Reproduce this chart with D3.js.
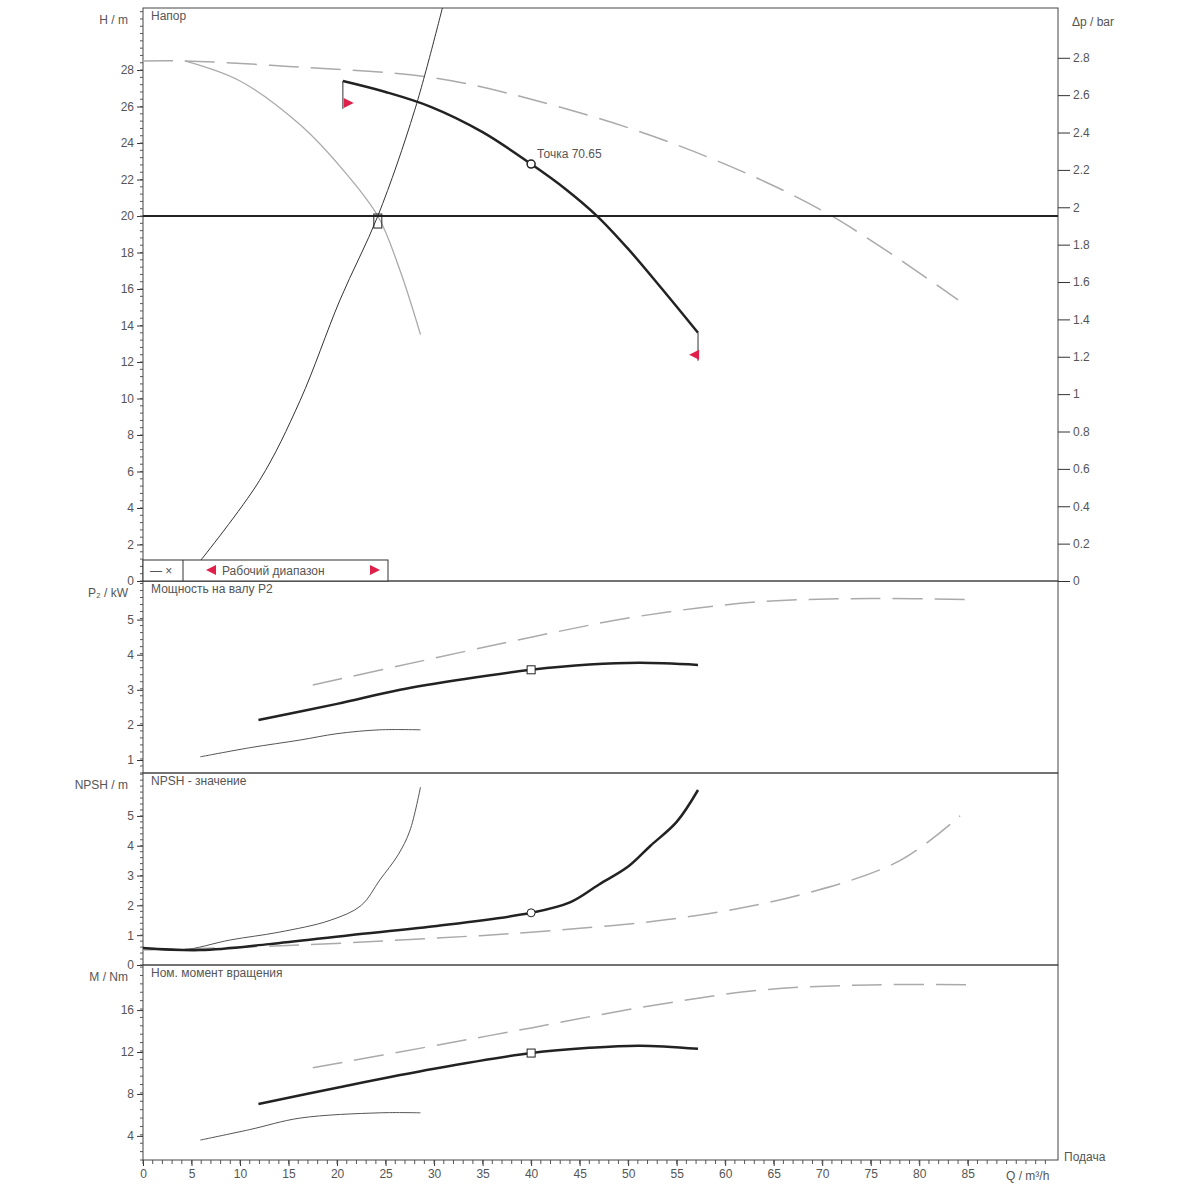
<!doctype html>
<meta charset="utf-8">
<title>Pump curves</title>
<script src="https://d3js.org/d3.v7.min.js"></script>
<style>
body { margin: 0; background: #fff; }
text { font-family: "Liberation Sans", Arial, sans-serif; font-size: 12px; fill: #555; }
.ax path, .ax line { stroke: #333; }
</style>
<svg width="1200" height="1200"></svg>
<script>
// Q in m3/h
var headMain = [[20.6,27.4],[25,26.8],[29.6,26.0],[35,24.6],[40,22.85],[43.5,21.5],[46.8,20],[50,18.2],[53.5,16.0],[57.2,13.6]];
var headMax = [[0,28.5],[4.3,28.5],[15,28.2],[29.6,27.6],[40,26.4],[55,23.9],[70,20.3],[84,15.4]];
var headMin = [[4.3,28.5],[10,27.4],[16.2,25],[20.5,22.6],[24.2,20],[26.5,17],[28.6,13.5]];
var sysCurve = [[5.9,1.1],[12,5.5],[16.2,9.9],[20.3,15.4],[24.2,20],[28,25.8],[30.9,31.5]];
var redMarks = [[21.2,26.2,"r"],[56.8,12.4,"l"]];
var p2Main = [[11.9,2.14],[20,2.6],[26.5,3.0],[33,3.3],[40,3.57],[46,3.72],[51.2,3.77],[57.2,3.71]];
var p2Max = [[17.5,3.14],[30,3.9],[40,4.5],[51,5.09],[63.6,5.51],[75,5.6],[85.8,5.57]];
var p2Min = [[5.9,1.09],[11,1.35],[16.2,1.57],[20,1.75],[24.4,1.86],[28.6,1.86]];
var npshMain = [[0,0.57],[5.9,0.5],[13,0.7],[21.3,1.0],[30,1.3],[40,1.75],[44,2.1],[47,2.7],[50,3.3],[52.3,4.0],[55,4.8],[57.2,5.87]];
var npshMin = [[0,0.57],[4,0.5],[9,0.84],[14,1.1],[19.3,1.5],[22.5,2.0],[24.4,2.85],[26.3,3.7],[27.5,4.5],[28.6,5.97]];
var npshMax = [[0,0.5],[16.2,0.67],[30,0.9],[40,1.1],[55.4,1.58],[67.7,2.35],[78,3.5],[84.2,5.0]];
var mMain = [[11.9,7.05],[20,8.6],[30,10.4],[40,11.9],[46,12.4],[51.2,12.6],[57.2,12.3]];
var mMax = [[17.5,10.5],[30,12.6],[40,14.3],[51,16.2],[63.6,17.9],[75,18.4],[85.8,18.4]];
var mMin = [[5.9,3.6],[11,4.6],[16.2,5.7],[24.4,6.2],[28.6,6.2]];
var duty = [40, 22.85];
var xTicks = d3.range(0, 90, 5);
var hTicks = d3.range(0, 30, 2);
var barTicks = d3.range(0, 2.9, 0.2);
var p2Ticks = [1,2,3,4,5];
var npshTicks = [0,1,2,3,4,5];
var mTicks = [4,8,12,16];

var svg = d3.select("svg");
var L = 143, R = 1058;
var x = d3.scaleLinear().domain([0, 94.3]).range([L, R]);
var panels = [
  {top: 8, bottom: 581, y: d3.scaleLinear().domain([0, 31.4]).range([581, 8]), ticks: hTicks, label: "H / m", title: "Напор"},
  {top: 581, bottom: 773, y: d3.scaleLinear().domain([0.63, 6.1]).range([773, 581]), ticks: p2Ticks, label: "P₂ / kW", title: "Мощность на валу P2"},
  {top: 773, bottom: 965, y: d3.scaleLinear().domain([0, 6.44]).range([965, 773]), ticks: npshTicks, label: "NPSH / m", title: "NPSH - значение"},
  {top: 965, bottom: 1160, y: d3.scaleLinear().domain([1.7, 20.3]).range([1160, 965]), ticks: mTicks, label: "M / Nm", title: "Ном. момент вращения"}
];

panels.forEach(function(p) {
  svg.append("rect").attr("x", L).attr("y", p.top).attr("width", R - L).attr("height", p.bottom - p.top)
    .attr("fill", "none").attr("stroke", "#444");
  var ax = svg.append("g").attr("class", "ax").attr("transform", "translate(" + L + ",0)")
    .call(d3.axisLeft(p.y).tickValues(p.ticks).tickSize(6).tickFormat(d3.format("d")));
  ax.select(".domain").remove();
  var mn = d3.range(p.y.domain()[0], p.y.domain()[1], (p.ticks[1]-p.ticks[0])/5);
  svg.append("g").selectAll("line").data(mn).join("line")
    .attr("x1", L - 3).attr("x2", L).attr("y1", function(d){return p.y(d);}).attr("y2", function(d){return p.y(d);})
    .attr("stroke", "#555");
  svg.append("text").attr("x", 128).attr("y", p.top + 16).attr("text-anchor", "end").text(p.label);
  svg.append("text").attr("x", L + 8).attr("y", p.top + 12).text(p.title);
});

// right bar axis
var yb = d3.scaleLinear().domain([0, 31.4 / 10.24]).range([581, 8]);
var rax = svg.append("g").attr("class", "ax").attr("transform", "translate(" + R + ",0)")
  .call(d3.axisRight(yb).tickValues(barTicks).tickSize(12).tickFormat(function(d){return d3.format(".1~f")(d);}));
rax.select(".domain").remove();
svg.append("text").attr("x", 1072).attr("y", 26).text("Δp / bar");

// bottom axis
var bax = svg.append("g").attr("class", "ax").attr("transform", "translate(0,1160)")
  .call(d3.axisBottom(x).tickValues(xTicks).tickSize(6));
bax.select(".domain").remove();
svg.append("g").selectAll("line").data(d3.range(0, 94, 1)).join("line")
  .attr("x1", function(d){return x(d);}).attr("x2", function(d){return x(d);})
  .attr("y1", 1160).attr("y2", 1164).attr("stroke", "#555");
svg.append("text").attr("x", 1006).attr("y", 1180).text("Q / m³/h");
svg.append("text").attr("x", 1064).attr("y", 1161).text("Подача");

var line = function(ys) { return d3.line().x(function(d){return x(d[0]);}).y(function(d){return ys(d[1]);}).curve(d3.curveCatmullRom); };
function draw(data, ys, color, width, dash) {
  svg.append("path").datum(data).attr("d", line(ys)).attr("fill", "none")
    .attr("stroke", color).attr("stroke-width", width).attr("stroke-dasharray", dash || null);
}
var yH = panels[0].y, yP = panels[1].y, yN = panels[2].y, yM = panels[3].y;

// head panel
svg.append("clipPath").attr("id", "c1").append("rect").attr("x", L).attr("y", 8).attr("width", R - L).attr("height", 573);
var gH = svg.append("g").attr("clip-path", "url(#c1)");
function drawH(data, color, width, dash) {
  gH.append("path").datum(data).attr("d", line(yH)).attr("fill", "none")
    .attr("stroke", color).attr("stroke-width", width).attr("stroke-dasharray", dash || null);
}
drawH(headMax, "#aaa", 1.5, "30,12");
drawH(headMin, "#aaa", 1.3);
drawH(sysCurve, "#333", 1);
svg.append("line").attr("x1", L).attr("x2", R).attr("y1", yH(20)).attr("y2", yH(20)).attr("stroke", "#222").attr("stroke-width", 2);
drawH(headMain, "#222", 2.5);
[headMain[0], headMain[headMain.length-1]].forEach(function(d, i) {
  svg.append("line").attr("x1", x(d[0])).attr("x2", x(d[0])).attr("y1", yH(d[1])).attr("y2", yH(redMarks[i][1]) + 6).attr("stroke", "#333");
});
redMarks.forEach(function(d) {
  var cx = x(d[0]), cy = yH(d[1]), s = d[2] === "r" ? 1 : -1;
  svg.append("path").attr("d", "M" + (cx - 5 * s) + "," + (cy - 5) + "L" + (cx + 5 * s) + "," + cy + "L" + (cx - 5 * s) + "," + (cy + 5) + "Z").attr("fill", "#e0204a");
});
svg.append("circle").attr("cx", x(duty[0])).attr("cy", yH(duty[1])).attr("r", 4).attr("fill", "#fff").attr("stroke", "#222").attr("stroke-width", 1.5);
svg.append("text").attr("x", x(duty[0]) + 6).attr("y", yH(duty[1]) - 6).text("Точка   70.65");
svg.append("rect").attr("x", x(24.2) - 4).attr("y", yH(20) - 2).attr("width", 8).attr("height", 14).attr("fill", "none").attr("stroke", "#222");

// legend box
svg.append("rect").attr("x", L).attr("y", 560).attr("width", 245).attr("height", 21).attr("fill", "#fff").attr("stroke", "#333");
svg.append("line").attr("x1", 183).attr("x2", 183).attr("y1", 560).attr("y2", 581).attr("stroke", "#333");
svg.append("text").attr("x", 150).attr("y", 575).text("—  ×");
svg.append("path").attr("d", "M206,570L216,565L216,575Z").attr("fill", "#e0204a");
svg.append("text").attr("x", 222).attr("y", 575).text("Рабочий диапазон");
svg.append("path").attr("d", "M380,570L370,565L370,575Z").attr("fill", "#e0204a");

// power
draw(p2Max, yP, "#aaa", 1.5, "30,12");
draw(p2Min, yP, "#555", 1);
draw(p2Main, yP, "#222", 2.5);
svg.append("rect").attr("x", x(40) - 4).attr("y", yP(3.57) - 4).attr("width", 8).attr("height", 8).attr("fill", "#fff").attr("stroke", "#222");
// npsh
draw(npshMax, yN, "#aaa", 1.5, "30,12");
draw(npshMin, yN, "#555", 1);
draw(npshMain, yN, "#222", 2.5);
svg.append("circle").attr("cx", x(40)).attr("cy", yN(1.75)).attr("r", 4).attr("fill", "#fff").attr("stroke", "#222");
// torque
draw(mMax, yM, "#aaa", 1.5, "30,12");
draw(mMin, yM, "#555", 1);
draw(mMain, yM, "#222", 2.5);
svg.append("rect").attr("x", x(40) - 4).attr("y", yM(11.9) - 4).attr("width", 8).attr("height", 8).attr("fill", "#fff").attr("stroke", "#222");
</script>
